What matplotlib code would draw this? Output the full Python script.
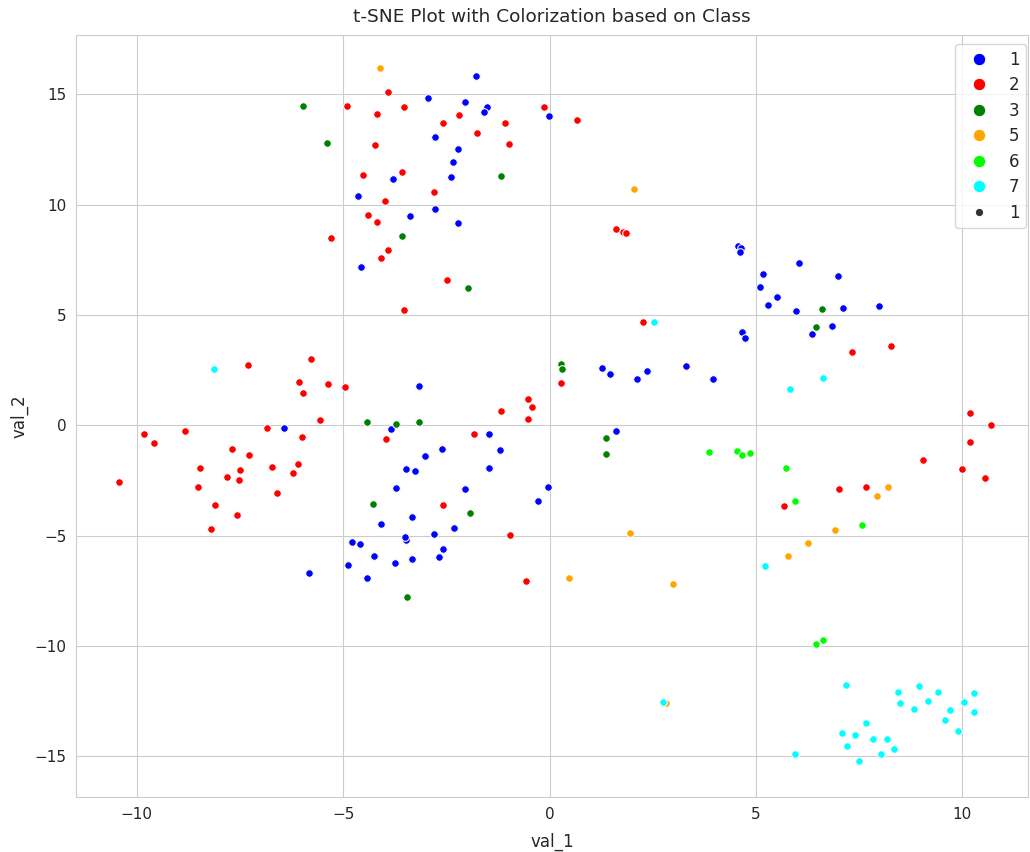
import matplotlib
matplotlib.use("Agg")
import matplotlib.pyplot as plt
from matplotlib.lines import Line2D
import seaborn as sns

# t-SNE embedding coordinates, grouped by class label
class_1_x = [-1.78, -2.95, -2.04, -1.51, -1.59, -0.02, -2.77, -2.22, -2.33, -3.79, -2.38, -4.65,
             -2.77, -3.38, -2.22, -4.56, 4.56, 4.64, 4.62, 5.18, 5.11, 6.04, 6.99, 5.51, 5.29,
             4.66, 4.74, 1.27, 1.46, 2.12, 2.37, 3.31, 3.96, 1.61, 5.97, 7.12, 7.97, 6.84, 6.36,
             -4.79, -4.59, -3.47, -2.57, -4.25, -2.68, -3.34, -3.74, -4.89, -4.41, -5.83, -3.17,
             -3.83, -1.46, -1.21, -1.47, -2.61, -3.01, -3.48, -3.26, -3.72, -2.05, -0.04, -0.28,
             -3.32, -4.09, -2.32, -2.80, -3.51, -6.44]
class_1_y = [15.84, 14.84, 14.65, 14.44, 14.20, 14.01, 13.05, 12.51, 11.93, 11.15, 11.25, 10.39,
             9.80, 9.48, 9.15, 7.16, 8.12, 8.02, 7.87, 6.87, 6.27, 7.34, 6.78, 5.83, 5.46,
             4.23, 3.94, 2.58, 2.34, 2.08, 2.45, 2.69, 2.11, -0.24, 5.18, 5.30, 5.39, 4.49, 4.12,
             -5.29, -5.39, -5.21, -5.62, -5.91, -5.97, -6.06, -6.24, -6.34, -6.91, -6.68, 1.77,
             -0.15, -0.41, -1.13, -1.95, -1.09, -1.39, -1.98, -2.07, -2.84, -2.87, -2.81, -3.43,
             -4.15, -4.49, -4.65, -4.91, -5.08, -0.12]

class_2_x = [-3.91, -4.90, -3.53, -0.14, -4.19, -2.20, -2.58, -1.07, -1.76, -4.22, -0.97, -3.58,
             -4.53, -2.79, -3.98, -4.40, -4.19, -5.29, -3.92, -4.09, -2.49, 0.66, 1.62, 1.77,
             1.85, 2.27, 0.28, 5.69, 7.32, 8.27, 10.18, 10.69, 10.19, 9.04, 10.00, 10.54, 7.01,
             7.67, -0.58, -3.52, -5.36, -4.95, -5.57, -3.95, -1.17, -0.52, -0.43, -0.52, -1.82,
             -2.57, -0.95, -7.31, -5.77, -6.06, -5.97, -6.85, -6.00, -9.83, -9.58, -8.82, -10.42,
             -7.69, -7.29, -8.47, -7.50, -6.72, -6.09, -6.22, -7.82, -7.53, -8.52, -6.60, -8.11,
             -7.56, -8.20]
class_2_y = [15.09, 14.48, 14.41, 14.41, 14.11, 14.05, 13.70, 13.68, 13.24, 12.69, 12.75, 11.49,
             11.33, 10.57, 10.16, 9.51, 9.20, 8.49, 7.96, 7.59, 6.60, 13.85, 8.88, 8.77,
             8.73, 4.67, 1.90, -3.67, 3.32, 3.61, 0.54, 0.00, -0.76, -1.59, -1.97, -2.37, -2.89,
             -2.80, -7.04, 5.22, 1.86, 1.75, 0.24, -0.61, 0.63, 1.19, 0.84, 0.27, -0.38,
             -3.63, -4.97, 2.73, 3.00, 1.98, 1.46, -0.12, -0.53, -0.39, -0.80, -0.27, -2.55,
             -1.09, -1.35, -1.95, -2.01, -1.88, -1.75, -2.15, -2.36, -2.49, -2.80, -3.07, -3.61,
             -4.06, -4.71]

class_3_x = [-5.96, -5.38, -1.18, -3.58, -1.97, 0.29, 0.30, 1.36, 1.36, 6.60, 6.46, -4.41,
             -3.71, -3.16, -4.27, -1.92, -3.46]
class_3_y = [14.48, 12.78, 11.31, 8.56, 6.21, 2.78, 2.57, -0.59, -1.30, 5.27, 4.45, 0.16,
             0.06, 0.16, -3.57, -3.96, -7.79]

class_5_x = [-4.11, 2.04, 1.95, 8.20, 7.94, 6.92, 6.27, 5.77, 0.47, 2.98, 2.82]
class_5_y = [16.19, 10.72, -4.88, -2.80, -3.20, -4.76, -5.33, -5.91, -6.90, -7.18, -12.60]

class_6_x = [3.86, 4.55, 4.66, 4.86, 5.73, 5.95, 7.57, 6.46, 6.63]
class_6_y = [-1.20, -1.15, -1.36, -1.27, -1.92, -3.43, -4.52, -9.90, -9.71]

class_7_x = [2.52, 5.83, 6.63, -8.13, 5.21, 2.76, 7.19, 8.44, 8.95, 9.40, 10.29, 8.50, 9.16,
             8.82, 9.70, 10.04, 10.28, 9.58, 9.89, 7.66, 7.08, 7.40, 7.84, 8.18, 7.21, 8.35,
             8.03, 7.50, 5.95]
class_7_y = [4.68, 1.64, 2.16, 2.55, -6.39, -12.54, -11.78, -12.07, -11.80, -12.07, -12.13,
             -12.57, -12.51, -12.85, -12.91, -12.55, -13.00, -13.37, -13.87, -13.50, -13.93,
             -14.02, -14.20, -14.21, -14.53, -14.65, -14.89, -15.21, -14.88]

class_labels = ["1", "2", "3", "5", "6", "7"]
class_colors = ["blue", "red", "green", "orange", "lime", "cyan"]
class_xs = [class_1_x, class_2_x, class_3_x, class_5_x, class_6_x, class_7_x]
class_ys = [class_1_y, class_2_y, class_3_y, class_5_y, class_6_y, class_7_y]
size_label = "1"

sns.set_style("whitegrid")

fig = plt.figure(figsize=(10.30, 8.52), dpi=100)
ax = fig.add_axes([76 / 1030, 55 / 852, 952 / 1030, 762 / 852])

for xs, ys, color in zip(class_xs, class_ys, class_colors):
    ax.scatter(xs, ys, s=30, c=color, edgecolors="white", linewidths=0.75, zorder=3)

ax.set_xlim(-11.47, 11.59)
ax.set_ylim(-16.84, 17.68)
ax.set_xticks([-10, -5, 0, 5, 10])
ax.set_yticks([-15, -10, -5, 0, 5, 10, 15])
ax.tick_params(labelsize=11)
ax.set_xlabel("val_1", fontsize=12, labelpad=8)
ax.set_ylabel("val_2", fontsize=12)
ax.set_title("t-SNE Plot with Colorization based on Class", fontsize=13.3, pad=9)

handles = [Line2D([], [], marker="o", linestyle="", markersize=9, markerfacecolor=c,
                  markeredgecolor="white", markeredgewidth=0.75)
           for c in class_colors]
handles.append(Line2D([], [], marker="o", linestyle="", markersize=6,
                      markerfacecolor="#333333", markeredgecolor="white",
                      markeredgewidth=0.75))
ax.legend(handles, class_labels + [size_label], loc="upper right", fontsize=12,
          labelspacing=0.45, borderaxespad=0,
          bbox_to_anchor=(1 - 2 / 952, 1 - 9 / 762))

fig.savefig("out.png", dpi=100)
